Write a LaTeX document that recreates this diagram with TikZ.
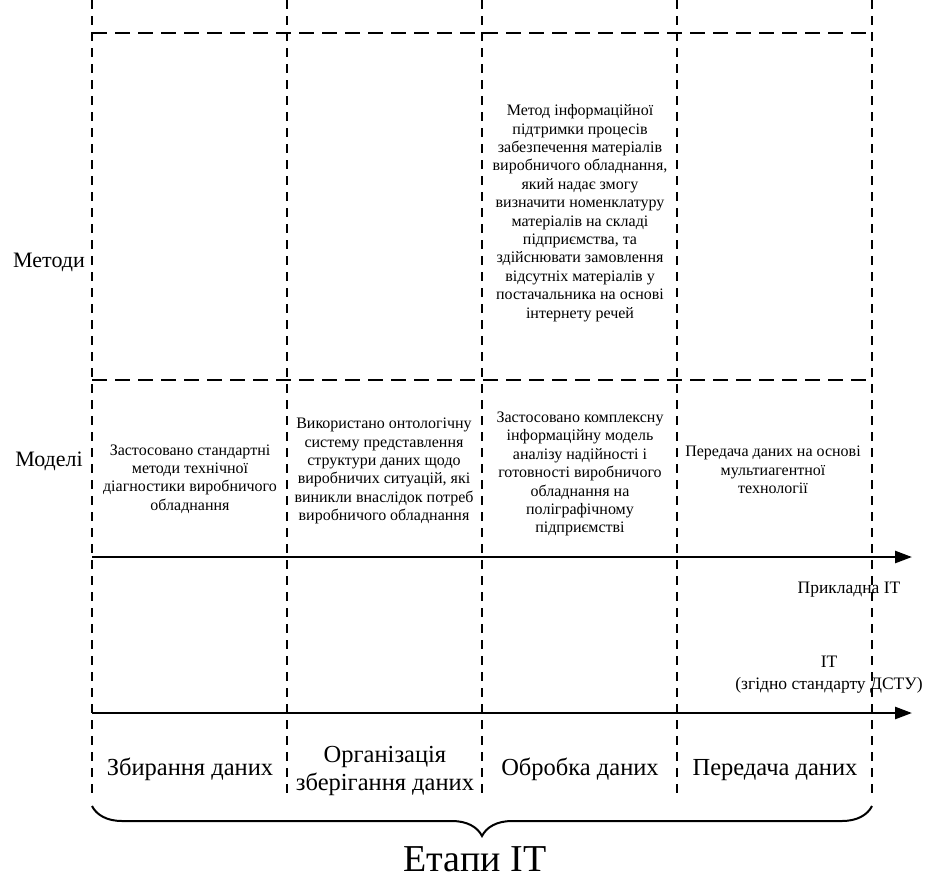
\documentclass[tikz,border=0pt]{standalone}
\usepackage{fontspec}
\setmainfont{Liberation Serif}
\usetikzlibrary{arrows.meta,decorations.pathreplacing}
\begin{document}
\begin{tikzpicture}[x=1pt,y=-1pt,
  gridline/.style={line width=1.6pt, dash pattern=on 9pt off 7pt},
  bandline/.style={line width=2.8pt, dash pattern=on 15pt off 8pt},
  axisline/.style={line width=2.6pt, -{Triangle[length=17pt,width=12pt]}},
  celltext/.style={align=center, font=\fontsize{16}{18.4}\selectfont, inner sep=0pt},
  sidelabel/.style={font=\fontsize{22}{26}\selectfont, inner sep=0pt},
  axislabel/.style={align=center, font=\fontsize{17.5}{22}\selectfont, inner sep=0pt},
  stagelabel/.style={align=center, font=\fontsize{24.5}{28}\selectfont, inner sep=0pt, anchor=base},
  title/.style={font=\fontsize{38}{42}\selectfont, inner sep=0pt}]
\useasboundingbox (0,0) rectangle (925,878);

% column boundaries
\foreach \n/\x in {0/92,1/287,2/482,3/677,4/872}{
  \coordinate (t\n) at (\x,0);
  \coordinate (b\n) at (\x,800);
  \coordinate (u\n) at (\x,33);
  \coordinate (m\n) at (\x,380);
}
\foreach \n in {0,...,4}{ \draw[gridline] (t\n) -- (b\n); }

% bands for methods and models
\draw[bandline] (u0) -- (u4);
\draw[bandline] (m0) -- (m4);

% axes
\coordinate (a1s) at (92,557);  \coordinate (a1e) at (912,557);
\coordinate (a2s) at (92,713);  \coordinate (a2e) at (912,713);
\draw[axisline] (a1s) -- (a1e);
\draw[axisline] (a2s) -- (a2e);

% row labels
\node[sidelabel] (metody) at (49,262) {Методи};
\node[sidelabel] (modeli) at (49,461) {Моделі};

% method
\node[celltext] (method3) at (580,213) {Метод інформаційної\\підтримки процесів\\забезпечення матеріалів\\виробничого обладнання,\\який надає змогу\\визначити номенклатуру\\матеріалів на складі\\підприємства, та\\здійснювати замовлення\\відсутніх матеріалів у\\постачальника на основі\\інтернету речей};

% models
\node[celltext] (model1) at (190,479) {Застосовано стандартні\\методи технічної\\діагностики виробничого\\обладнання};
\node[celltext] (model2) at (384,471) {Використано онтологічну\\систему представлення\\структури даних щодо\\виробничих ситуацій, які\\виникли внаслідок потреб\\виробничого обладнання};
\node[celltext] (model3) at (580,474) {Застосовано комплексну\\інформаційну модель\\аналізу надійності і\\готовності виробничого\\обладнання на\\поліграфічному\\підприємстві};
\node[celltext] (model4) at (773,470) {Передача даних на основі\\мультиагентної\\технології};

% axis captions
\node[axislabel] (applied) at (849,590) {Прикладна ІТ};
\node[axislabel] (standard) at (829,675) {ІТ\\(згідно стандарту ДСТУ)};

% stages
\node[stagelabel] (s1) at (190,775) {Збирання даних};
\node[stagelabel] (s2) at (385,790) {Організація\\зберігання даних};
\node[stagelabel] (s3) at (580,775) {Обробка даних};
\node[stagelabel] (s4) at (775,775) {Передача даних};

% brace over the stages
\coordinate (br0) at (92,806);
\coordinate (br1) at (872,806);
\draw[line width=2pt, decorate, decoration={brace, mirror, amplitude=30pt}] (br0) -- (br1);
\node[title, anchor=base] (stages) at (475,871) {Етапи ІТ};
\end{tikzpicture}
\end{document}
